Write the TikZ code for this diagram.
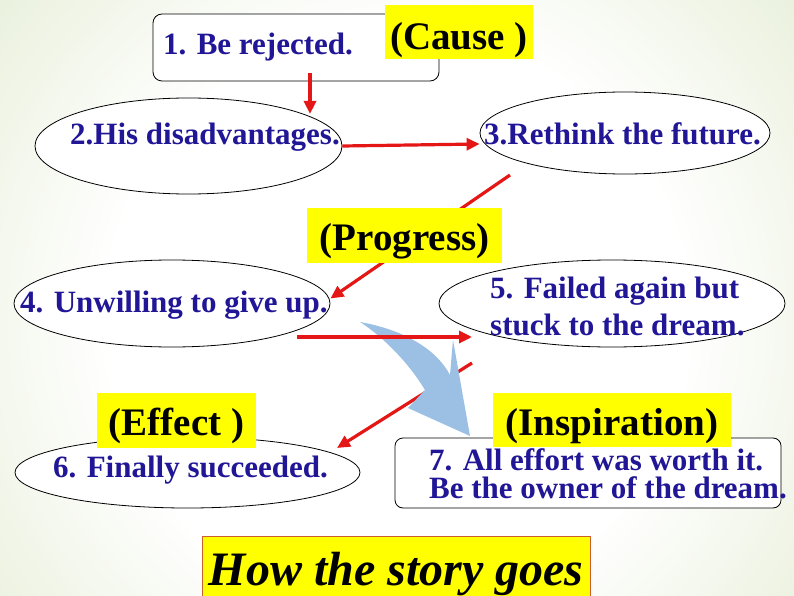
\documentclass[tikz,border=0pt]{standalone}
\usepackage{fontspec}
\setmainfont{Liberation Serif}
\usetikzlibrary{arrows.meta, shapes.geometric, positioning}
\definecolor{storyblue}{RGB}{32,22,150}
\definecolor{arrowred}{RGB}{228,22,22}
\definecolor{tagyellow}{RGB}{255,255,0}
\definecolor{bggreen}{RGB}{210,224,182}
\definecolor{bendblue}{RGB}{155,192,228}
\definecolor{titleframe}{RGB}{205,95,45}
\pgfdeclareradialshading{slideglow}{\pgfpoint{0bp}{0bp}}{color(0bp)=(white); color(16bp)=(white); color(43bp)=(bggreen); color(50bp)=(bggreen)}

\begin{document}
\begin{tikzpicture}[x=1pt, y=-1pt,
    oval/.style={draw, ellipse, line width=0.8pt, fill=white, inner sep=0},
    card/.style={draw, line width=0.8pt, fill=white, rounded corners=9pt, inner sep=0},
    tag/.style={fill=tagyellow, anchor=base, inner sep=0, font=\fontsize{39}{41}\selectfont\bfseries},
    txt/.style={anchor=base west, inner sep=0, text=storyblue, font=\fontsize{31}{37}\selectfont\bfseries},
    link/.style={draw=arrowred, line width=3.2pt, -{Triangle[length=13pt, width=12pt]}}]
\useasboundingbox (0,0) rectangle (794,596);
% background
\begin{scope}
\clip (0,0) rectangle (794,596);
\shade[shading=slideglow] (-53,-130) rectangle (847,770);
\end{scope}
% stages
\node[card, minimum width=286pt, minimum height=67pt] (box1) at (296,47.5) {};
\node[oval, minimum width=307pt, minimum height=96pt] (e2) at (188.5,146) {};
\node[oval, minimum width=290pt, minimum height=82pt] (e3) at (625,133) {};
\node[oval, minimum width=316pt, minimum height=87pt] (e4) at (172,303.5) {};
\node[oval, minimum width=346pt, minimum height=87pt] (e5) at (612,303.5) {};
\node[oval, minimum width=345pt, minimum height=71pt] (e6) at (187.5,472.5) {};
\node[card, rounded corners=8pt, minimum width=386pt, minimum height=70pt] (box7) at (588,473) {};
% connectors
\coordinate (c12) at (310,73);
\coordinate (c34) at (510,175);
\coordinate (c45a) at (297,337);
\coordinate (c45b) at (472,337);
\coordinate (c56a) at (472,363);
\coordinate (c56b) at (337,448);
\draw[link] (c12) -- ([yshift=2pt]c12 |- e2.14);
\draw[link] (e2.east) -- ([yshift=-11pt]e3.west);
\draw[link] (c34) -- ([yshift=5pt]e4.east);
\draw[link] (c56a) -- (c56b);
% bent block arrow
\fill[bendblue] (360,322) .. controls (405,330) and (437,350) .. (450,375)
  -- (453,340) -- (470,436) -- (408,408) -- (425,390)
  .. controls (410,365) and (385,338) .. cycle;
\draw[link] (c45a) -- (c45b);
% texts
\node[txt] (t1) at (163,55) {1. Be rejected.};
\node[txt] (t2) at (70,145) {2.His disadvantages.};
\node[txt] (t3) at (484,145) {3.Rethink the future.};
\node[txt] (t4) at (20,312) {4. Unwilling to give up.};
\node[txt] (t5a) at (490,298) {5. Failed again but};
\node[txt] (t5b) at (490,335) {stuck to the dream.};
\node[txt] (t6) at (53,477) {6. Finally succeeded.};
\node[txt] (t7a) at (429,470) {7. All effort was worth it.};
\node[txt] (t7b) at (429,498) {Be the owner of the dream.};
% tags
\node[tag, minimum width=148pt, text height=45pt, text depth=9pt] (cause) at (459,50) {(Cause )};
\node[tag, minimum width=195pt, text height=42pt, text depth=13pt] (progress) at (404.5,250) {(Progress)};
\node[tag, minimum width=159pt, text height=42pt, text depth=13pt] (effect) at (176.5,435) {(Effect )};
\node[tag, minimum width=238pt, text height=42pt, text depth=12pt] (inspire) at (612,435) {(Inspiration)};
\node[tag, draw=titleframe, line width=1pt, minimum width=388pt, text height=49pt, text depth=16pt,
  font=\fontsize{48}{50}\selectfont\bfseries\itshape] (title) at (396,585) {How the story goes};
\end{tikzpicture}
\end{document}
